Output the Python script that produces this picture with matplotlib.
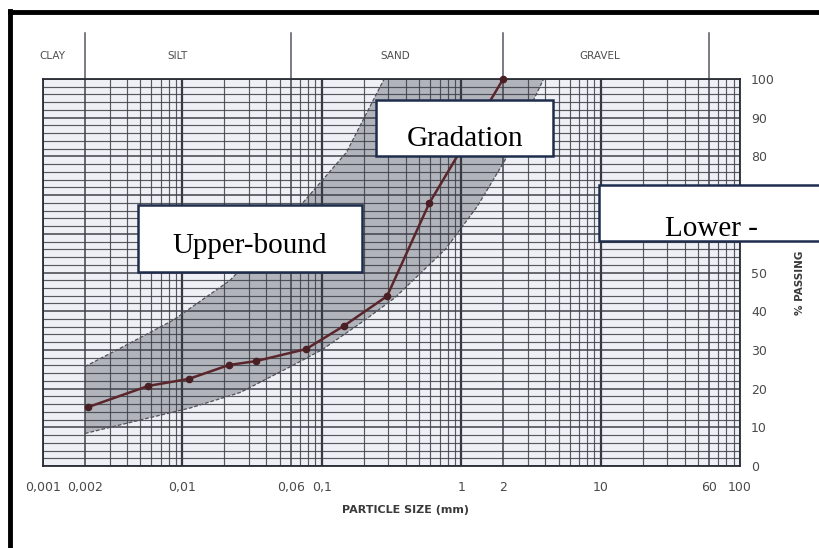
import matplotlib
matplotlib.use("Agg")
import matplotlib.pyplot as plt
from matplotlib.patches import Rectangle
from matplotlib.lines import Line2D
from matplotlib.ticker import FixedLocator, LogLocator, MultipleLocator, NullFormatter

# ---------------- data ----------------
grad_size = [0.0021, 0.0057, 0.0111, 0.0216, 0.0337, 0.077, 0.144, 0.294, 0.59, 2.0]
grad_pass = [15.2, 20.7, 22.5, 26.1, 27.1, 30.2, 36.2, 43.9, 67.9, 100.0]

upper_size = [0.002, 0.0037, 0.0086, 0.022, 0.073, 0.15, 0.28]
upper_pass = [25.7, 30.7, 37.7, 48.0, 68.0, 81.0, 100.0]

lower_size = [0.002, 0.005, 0.0114, 0.026, 0.059, 0.1, 0.2, 0.335, 0.77, 1.3, 2.06, 3.9]
lower_pass = [8.4, 11.9, 15.0, 19.0, 25.6, 30.0, 37.5, 43.5, 56.0, 67.0, 79.0, 100.0]

x_ticks = [0.001, 0.002, 0.01, 0.06, 0.1, 1, 2, 10, 60, 100]
x_tick_labels = ["0,001", "0,002", "0,01", "0,06", "0,1", "1", "2", "10", "60", "100"]
y_ticks = [0, 10, 20, 30, 40, 50, 60, 70, 80, 90, 100]
# 60 and 70 are hidden behind the "Lower -" box in the reference
y_tick_labels = ["0", "10", "20", "30", "40", "50", "", "", "80", "90", "100"]

zone_bounds = [0.002, 0.06, 2, 60]
zone_names = ["CLAY", "SILT", "SAND", "GRAVEL"]

# ---------------- figure ----------------
W, H = 819, 548
fig = plt.figure(figsize=(W / 100, H / 100), dpi=100, facecolor="white")

def fx(px):
    return px / W

def fy(py):
    return 1 - py / H

ax = fig.add_axes([fx(43), fy(466), (740 - 43) / W, (466 - 79) / H])
ax.set_facecolor("#eef0f5")
ax.set_xscale("log")
ax.set_xlim(0.001, 100)
ax.set_ylim(0, 100)

gridc = "#3c3f47"
ax.xaxis.set_major_locator(FixedLocator(x_ticks))
ax.xaxis.set_minor_locator(LogLocator(base=10, subs=range(1, 10), numticks=20))
ax.xaxis.set_minor_formatter(NullFormatter())
ax.set_xticklabels(x_tick_labels)
ax.yaxis.set_major_locator(FixedLocator(y_ticks))
ax.set_yticklabels(y_tick_labels)
ax.yaxis.set_minor_locator(MultipleLocator(2))
ax.grid(which="minor", color=gridc, lw=0.85, alpha=0.85)
ax.grid(which="major", color=gridc, lw=1.2, alpha=0.9)
for dec in [0.01, 0.1, 1, 10]:
    ax.axvline(dec, color="#2a2c33", lw=1.6, zorder=1)

ax.yaxis.tick_right()
ax.tick_params(axis="both", which="both", length=0)
ax.tick_params(axis="x", pad=11, labelsize=9, labelcolor="#4a4a4a")
ax.tick_params(axis="y", pad=8, labelsize=9, labelcolor="#4a4a4a")
for s in ax.spines.values():
    s.set_color("#2a2c33")
    s.set_linewidth(1.3)

# band between upper and lower bound
poly_x = list(upper_size) + list(lower_size[::-1])
poly_y = list(upper_pass) + list(lower_pass[::-1])
ax.fill(poly_x, poly_y, color="#8d909a", alpha=0.62, zorder=0.5, lw=0)
ax.plot(upper_size, upper_pass, color="#50525a", lw=0.9, ls=(0, (3, 1.5)), zorder=2)
ax.plot(lower_size, lower_pass, color="#50525a", lw=0.9, ls=(0, (3, 1.5)), zorder=2)

# gradation curve
ax.plot(grad_size, grad_pass, color="#5a262b", lw=1.8, marker="o", ms=4.5,
        mfc="#4a1f24", mec="#4a1f24", zorder=4, clip_on=False)

# zone divider lines
for b in zone_bounds:
    ax.axvline(b, ymin=1.0, ymax=(466 - 33) / (466 - 79), color="#555860",
               lw=1.1, clip_on=False)

zone_px = [52, 178, 395, 600]
for name, px in zip(zone_names, zone_px):
    fig.text(fx(px), fy(56), name, ha="center", va="center", fontsize=7.5,
             color="#4f4f4f")

fig.text(fx(405), fy(510), "PARTICLE SIZE (mm)", ha="center", va="center",
         fontsize=8, color="#3a3a3a", fontweight="semibold")
fig.text(fx(800), fy(283), "% PASSING", ha="center", va="center",
         fontsize=7.5, color="#3a3a3a", rotation=90, fontweight="semibold")

# black scan border (top and left)
fig.add_artist(Line2D([fx(10), fx(819)], [fy(12), fy(12)], color="black", lw=3.5,
                      transform=fig.transFigure))
fig.add_artist(Line2D([fx(10), fx(10)], [fy(10.5), fy(548)], color="black", lw=3.5,
                      transform=fig.transFigure))

# annotation boxes
def box(x1, y1, x2, y2, text, tx, ty, ha="center"):
    fig.add_artist(Rectangle((fx(x1), fy(y2)), (x2 - x1) / W, (y2 - y1) / H,
                             transform=fig.transFigure, fc="white",
                             ec="#1f2d4d", lw=1.8, zorder=10))
    fig.text(fx(tx), fy(ty), text, ha=ha, va="baseline", fontsize=21,
             family=["Liberation Serif", "DejaVu Serif"], color="black", zorder=11)

box(376, 100, 553, 156, "Gradation", 465, 146)
box(138, 205, 362, 272, "Upper-bound", 250, 253)
box(599, 185, 830, 241, "Lower -", 711, 236)

fig.savefig("out.png", dpi=100, facecolor=fig.get_facecolor())
